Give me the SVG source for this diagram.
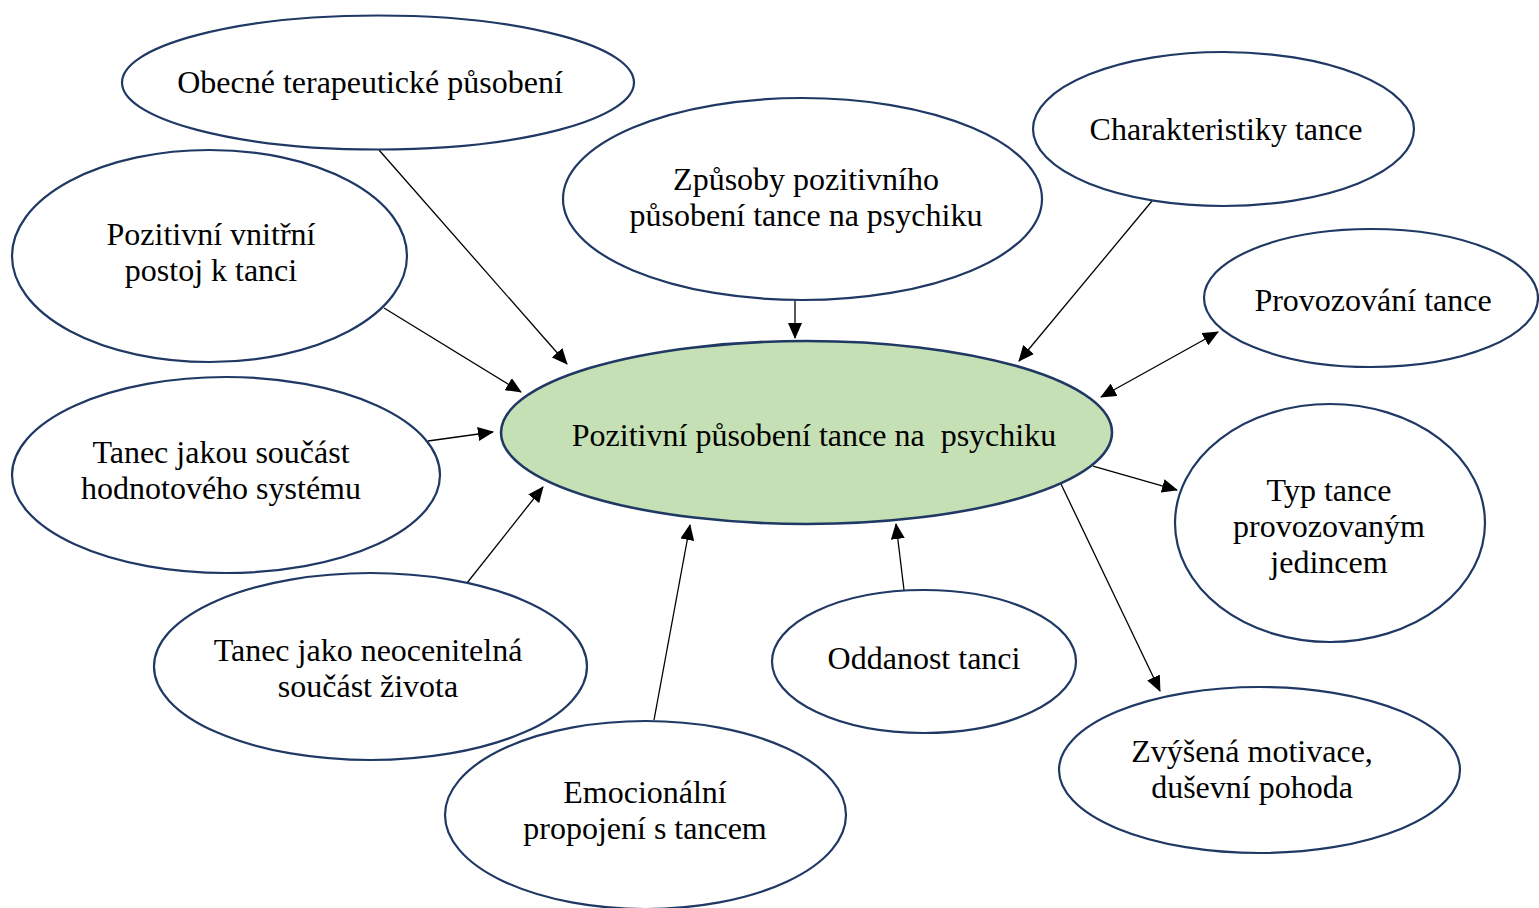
<svg xmlns="http://www.w3.org/2000/svg" width="1539" height="908" viewBox="0 0 1539 908">
  <style>
    .node { fill: #ffffff; stroke: #1f3864; stroke-width: 2.2; }
    .hub { fill: #c5e0b4; stroke: #1f3864; stroke-width: 2.6; }
    .label { font-family: "Liberation Serif", "Times New Roman", serif; font-size: 32px; fill: #000000; text-anchor: middle; }
    .link { stroke: #000000; stroke-width: 1.3; fill: none; }
  </style>
  <defs>
    <marker id="arrow" markerUnits="userSpaceOnUse" markerWidth="16" markerHeight="14" refX="15" refY="7" orient="auto-start-reverse" viewBox="0 0 16 14">
      <path d="M0,0 L16,7 L0,14 Z" fill="#000000"/>
    </marker>
  </defs>
  <rect width="1539" height="908" fill="#ffffff"/>

  <g id="connectors">
    <line class="link" x1="379" y1="150" x2="567" y2="364" marker-end="url(#arrow)"/>
    <line class="link" x1="384" y1="308" x2="521" y2="392" marker-end="url(#arrow)"/>
    <line class="link" x1="428" y1="441" x2="493" y2="432" marker-end="url(#arrow)"/>
    <line class="link" x1="467" y1="583" x2="543" y2="487" marker-end="url(#arrow)"/>
    <line class="link" x1="654" y1="720" x2="690" y2="525" marker-end="url(#arrow)"/>
    <line class="link" x1="904" y1="590" x2="896" y2="524" marker-end="url(#arrow)"/>
    <line class="link" x1="795" y1="301" x2="795" y2="338" marker-end="url(#arrow)"/>
    <line class="link" x1="1152" y1="201" x2="1019" y2="361" marker-end="url(#arrow)"/>
    <line class="link" x1="1101" y1="397" x2="1218" y2="332" marker-start="url(#arrow)" marker-end="url(#arrow)"/>
    <line class="link" x1="1093" y1="466" x2="1177" y2="490" marker-end="url(#arrow)"/>
    <line class="link" x1="1061" y1="484" x2="1160" y2="691" marker-end="url(#arrow)"/>
  </g>

  <g id="node-obecne">
    <ellipse class="node" cx="378" cy="82.5" rx="256" ry="67"/>
    <text class="label" x="370" y="93">Obecné terapeutické působení</text>
  </g>
  <g id="node-postoj">
    <ellipse class="node" cx="209.5" cy="256" rx="197.5" ry="106"/>
    <text class="label" x="211" y="245">Pozitivní vnitřní</text>
    <text class="label" x="211" y="281">postoj k tanci</text>
  </g>
  <g id="node-zpusoby">
    <ellipse class="node" cx="802.5" cy="199" rx="239.5" ry="101"/>
    <text class="label" x="806" y="190">Způsoby pozitivního</text>
    <text class="label" x="806" y="226">působení tance na psychiku</text>
  </g>
  <g id="node-charakteristiky">
    <ellipse class="node" cx="1223.5" cy="129" rx="190.5" ry="77"/>
    <text class="label" x="1226" y="140">Charakteristiky tance</text>
  </g>
  <g id="node-provozovani">
    <ellipse class="node" cx="1371" cy="298" rx="167" ry="69"/>
    <text class="label" x="1373" y="311">Provozování tance</text>
  </g>
  <g id="node-hub">
    <ellipse class="hub" cx="806.5" cy="432.5" rx="305.5" ry="91.5"/>
    <text class="label" x="814" y="446" xml:space="preserve">Pozitivní působení tance na  psychiku</text>
  </g>
  <g id="node-hodnoty">
    <ellipse class="node" cx="226" cy="475" rx="214" ry="98"/>
    <text class="label" x="221" y="463">Tanec jakou součást</text>
    <text class="label" x="221" y="499">hodnotového systému</text>
  </g>
  <g id="node-typ">
    <ellipse class="node" cx="1330" cy="523" rx="155" ry="119"/>
    <text class="label" x="1329" y="501">Typ tance</text>
    <text class="label" x="1329" y="537">provozovaným</text>
    <text class="label" x="1329" y="573">jedincem</text>
  </g>
  <g id="node-neocenitelna">
    <ellipse class="node" cx="370.5" cy="666.5" rx="216.5" ry="93.5"/>
    <text class="label" x="368" y="661">Tanec jako neocenitelná</text>
    <text class="label" x="368" y="697">součást života</text>
  </g>
  <g id="node-oddanost">
    <ellipse class="node" cx="924" cy="661.5" rx="152" ry="71.5"/>
    <text class="label" x="924" y="669">Oddanost tanci</text>
  </g>
  <g id="node-emocionalni">
    <ellipse class="node" cx="645.5" cy="815" rx="200.5" ry="94"/>
    <text class="label" x="645" y="803">Emocionální</text>
    <text class="label" x="645" y="839">propojení s tancem</text>
  </g>
  <g id="node-motivace">
    <ellipse class="node" cx="1259.5" cy="770" rx="200.5" ry="83"/>
    <text class="label" x="1252" y="762">Zvýšená motivace,</text>
    <text class="label" x="1252" y="798">duševní pohoda</text>
  </g>
</svg>
